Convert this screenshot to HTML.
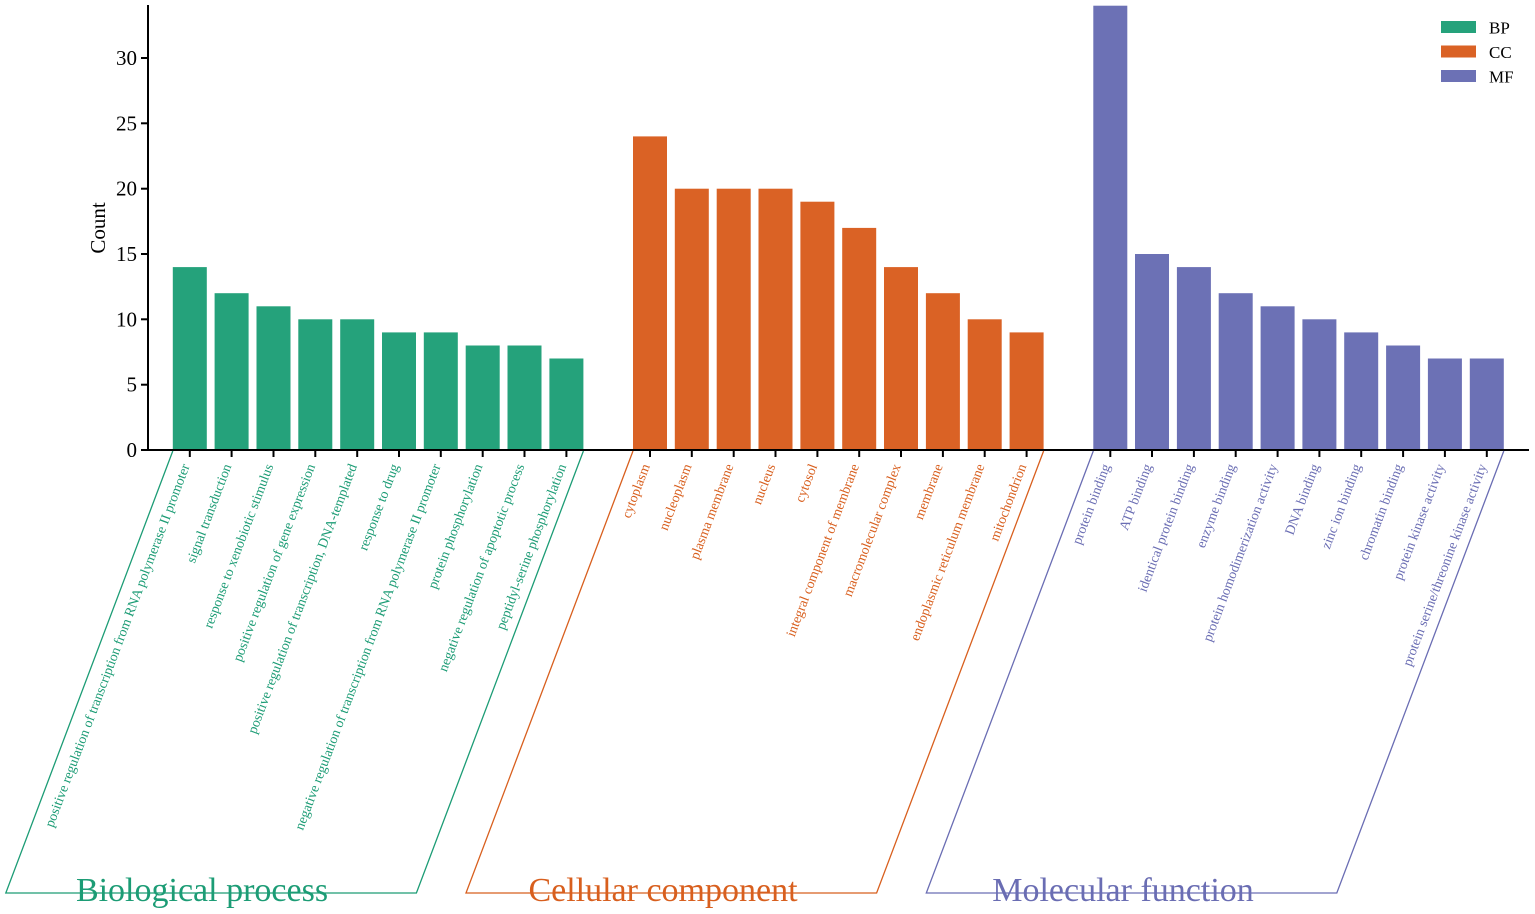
<!DOCTYPE html>
<html>
<head>
<meta charset="utf-8">
<style>
html,body{margin:0;padding:0;background:#fff;}
svg{display:block;}
text{font-family:"Liberation Serif","Times New Roman",serif;}
</style>
</head>
<body>
<svg width="1535" height="914" viewBox="0 0 1535 914" xmlns="http://www.w3.org/2000/svg">
<rect width="1535" height="914" fill="#fff"/>

<!-- BP bars -->
<g fill="#25a27b">
<rect x="172.8" y="267.1" width="34" height="182.9"/>
<rect x="214.6" y="293.2" width="34" height="156.8"/>
<rect x="256.5" y="306.3" width="34" height="143.7"/>
<rect x="298.3" y="319.3" width="34" height="130.7"/>
<rect x="340.2" y="319.3" width="34" height="130.7"/>
<rect x="382.0" y="332.4" width="34" height="117.6"/>
<rect x="423.8" y="332.4" width="34" height="117.6"/>
<rect x="465.7" y="345.5" width="34" height="104.5"/>
<rect x="507.5" y="345.5" width="34" height="104.5"/>
<rect x="549.4" y="358.5" width="34" height="91.5"/>
</g>
<!-- CC bars -->
<g fill="#da6225">
<rect x="633.0" y="136.4" width="34" height="313.6"/>
<rect x="674.8" y="188.7" width="34" height="261.3"/>
<rect x="716.7" y="188.7" width="34" height="261.3"/>
<rect x="758.5" y="188.7" width="34" height="261.3"/>
<rect x="800.4" y="201.7" width="34" height="248.3"/>
<rect x="842.2" y="227.9" width="34" height="222.1"/>
<rect x="884.0" y="267.1" width="34" height="182.9"/>
<rect x="925.9" y="293.2" width="34" height="156.8"/>
<rect x="967.7" y="319.3" width="34" height="130.7"/>
<rect x="1009.6" y="332.4" width="34" height="117.6"/>
</g>
<!-- MF bars -->
<g fill="#6c71b5">
<rect x="1093.3" y="5.7" width="34" height="444.3"/>
<rect x="1135.0" y="254.0" width="34" height="196.0"/>
<rect x="1176.9" y="267.1" width="34" height="182.9"/>
<rect x="1218.7" y="293.2" width="34" height="156.8"/>
<rect x="1260.6" y="306.3" width="34" height="143.7"/>
<rect x="1302.4" y="319.3" width="34" height="130.7"/>
<rect x="1344.2" y="332.4" width="34" height="117.6"/>
<rect x="1386.1" y="345.5" width="34" height="104.5"/>
<rect x="1427.9" y="358.5" width="34" height="91.5"/>
<rect x="1469.8" y="358.5" width="34" height="91.5"/>
</g>

<!-- Axes -->
<g stroke="#000" stroke-width="2" fill="none">
<line x1="148" y1="5" x2="148" y2="451"/>
<line x1="147" y1="450" x2="1529" y2="450"/>
<line x1="141" y1="450" x2="148" y2="450"/>
<line x1="141" y1="384.7" x2="148" y2="384.7"/>
<line x1="141" y1="319.3" x2="148" y2="319.3"/>
<line x1="141" y1="254" x2="148" y2="254"/>
<line x1="141" y1="188.7" x2="148" y2="188.7"/>
<line x1="141" y1="123.3" x2="148" y2="123.3"/>
<line x1="141" y1="58" x2="148" y2="58"/>
</g>
<!-- x ticks -->
<g stroke="#000" stroke-width="2">
<line x1="189.8" y1="450" x2="189.8" y2="457"/>
<line x1="231.6" y1="450" x2="231.6" y2="457"/>
<line x1="273.5" y1="450" x2="273.5" y2="457"/>
<line x1="315.3" y1="450" x2="315.3" y2="457"/>
<line x1="357.2" y1="450" x2="357.2" y2="457"/>
<line x1="399.0" y1="450" x2="399.0" y2="457"/>
<line x1="440.8" y1="450" x2="440.8" y2="457"/>
<line x1="482.7" y1="450" x2="482.7" y2="457"/>
<line x1="524.5" y1="450" x2="524.5" y2="457"/>
<line x1="566.4" y1="450" x2="566.4" y2="457"/>
<line x1="650.0" y1="450" x2="650.0" y2="457"/>
<line x1="691.8" y1="450" x2="691.8" y2="457"/>
<line x1="733.7" y1="450" x2="733.7" y2="457"/>
<line x1="775.5" y1="450" x2="775.5" y2="457"/>
<line x1="817.4" y1="450" x2="817.4" y2="457"/>
<line x1="859.2" y1="450" x2="859.2" y2="457"/>
<line x1="901.0" y1="450" x2="901.0" y2="457"/>
<line x1="942.9" y1="450" x2="942.9" y2="457"/>
<line x1="984.7" y1="450" x2="984.7" y2="457"/>
<line x1="1026.6" y1="450" x2="1026.6" y2="457"/>
<line x1="1110.3" y1="450" x2="1110.3" y2="457"/>
<line x1="1152.0" y1="450" x2="1152.0" y2="457"/>
<line x1="1193.9" y1="450" x2="1193.9" y2="457"/>
<line x1="1235.7" y1="450" x2="1235.7" y2="457"/>
<line x1="1277.6" y1="450" x2="1277.6" y2="457"/>
<line x1="1319.4" y1="450" x2="1319.4" y2="457"/>
<line x1="1361.2" y1="450" x2="1361.2" y2="457"/>
<line x1="1403.1" y1="450" x2="1403.1" y2="457"/>
<line x1="1444.9" y1="450" x2="1444.9" y2="457"/>
<line x1="1486.8" y1="450" x2="1486.8" y2="457"/>
</g>

<!-- y tick labels -->
<g font-size="21" fill="#000" text-anchor="end">
<text x="137" y="457">0</text>
<text x="137" y="391.7">5</text>
<text x="137" y="326.3">10</text>
<text x="137" y="261">15</text>
<text x="137" y="195.7">20</text>
<text x="137" y="130.3">25</text>
<text x="137" y="65">30</text>
</g>
<text transform="translate(105,228) rotate(-90)" font-size="21" text-anchor="middle" fill="#000">Count</text>

<!-- Legend -->
<rect x="1441" y="21" width="35" height="12" fill="#25a27b"/>
<rect x="1441" y="45.5" width="35" height="12" fill="#da6225"/>
<rect x="1441" y="70" width="35" height="12" fill="#6c71b5"/>
<g font-size="17" fill="#000">
<text x="1489" y="33.5">BP</text>
<text x="1489" y="58">CC</text>
<text x="1489" y="82.5">MF</text>
</g>

<!-- BP labels -->
<g font-size="13.8" fill="#1c9c75" text-anchor="end">
<text transform="translate(189.8,466) rotate(-69.3)">positive regulation of transcription from RNA polymerase II promoter</text>
<text transform="translate(231.6,466) rotate(-69.3)">signal transduction</text>
<text transform="translate(273.5,466) rotate(-69.3)">response to xenobiotic stimulus</text>
<text transform="translate(315.3,466) rotate(-69.3)">positive regulation of gene expression</text>
<text transform="translate(357.2,466) rotate(-69.3)">positive regulation of transcription, DNA-templated</text>
<text transform="translate(399.0,466) rotate(-69.3)">response to drug</text>
<text transform="translate(440.8,466) rotate(-69.3)">negative regulation of transcription from RNA polymerase II promoter</text>
<text transform="translate(482.7,466) rotate(-69.3)">protein phosphorylation</text>
<text transform="translate(524.5,466) rotate(-69.3)">negative regulation of apoptotic process</text>
<text transform="translate(566.4,466) rotate(-69.3)">peptidyl-serine phosphorylation</text>
</g>
<!-- CC labels -->
<g font-size="13.8" fill="#d85f1e" text-anchor="end">
<text transform="translate(650.0,466) rotate(-69.3)">cytoplasm</text>
<text transform="translate(691.8,466) rotate(-69.3)">nucleoplasm</text>
<text transform="translate(733.7,466) rotate(-69.3)">plasma membrane</text>
<text transform="translate(775.5,466) rotate(-69.3)">nucleus</text>
<text transform="translate(817.4,466) rotate(-69.3)">cytosol</text>
<text transform="translate(859.2,466) rotate(-69.3)">integral component of membrane</text>
<text transform="translate(901.0,466) rotate(-69.3)">macromolecular complex</text>
<text transform="translate(942.9,466) rotate(-69.3)">membrane</text>
<text transform="translate(984.7,466) rotate(-69.3)">endoplasmic reticulum membrane</text>
<text transform="translate(1026.6,466) rotate(-69.3)">mitochondrion</text>
</g>
<!-- MF labels -->
<g font-size="13.8" fill="#6a6db3" text-anchor="end">
<text transform="translate(1110.3,466) rotate(-69.3)">protein binding</text>
<text transform="translate(1152.0,466) rotate(-69.3)">ATP binding</text>
<text transform="translate(1193.9,466) rotate(-69.3)">identical protein binding</text>
<text transform="translate(1235.7,466) rotate(-69.3)">enzyme binding</text>
<text transform="translate(1277.6,466) rotate(-69.3)">protein homodimerization activity</text>
<text transform="translate(1319.4,466) rotate(-69.3)">DNA binding</text>
<text transform="translate(1361.2,466) rotate(-69.3)">zinc ion binding</text>
<text transform="translate(1403.1,466) rotate(-69.3)">chromatin binding</text>
<text transform="translate(1444.9,466) rotate(-69.3)">protein kinase activity</text>
<text transform="translate(1486.8,466) rotate(-69.3)">protein serine/threonine kinase activity</text>
</g>

<!-- Group frames -->
<g fill="none" stroke-width="1.3">
<polyline points="172.8,451 5.8,893 416.4,893 583.4,451" stroke="#1c9c75"/>
<polyline points="633,451 466,893 876.6,893 1043.6,451" stroke="#d85f1e"/>
<polyline points="1093.3,451 926.3,893 1336.8,893 1503.8,451" stroke="#6a6db3"/>
</g>

<!-- Group titles -->
<g font-size="34" text-anchor="middle">
<text x="202" y="901" fill="#1c9c75">Biological process</text>
<text x="663" y="901" fill="#d85f1e">Cellular component</text>
<text x="1123" y="901" fill="#6a6db3">Molecular function</text>
</g>
</svg>
</body>
</html>
